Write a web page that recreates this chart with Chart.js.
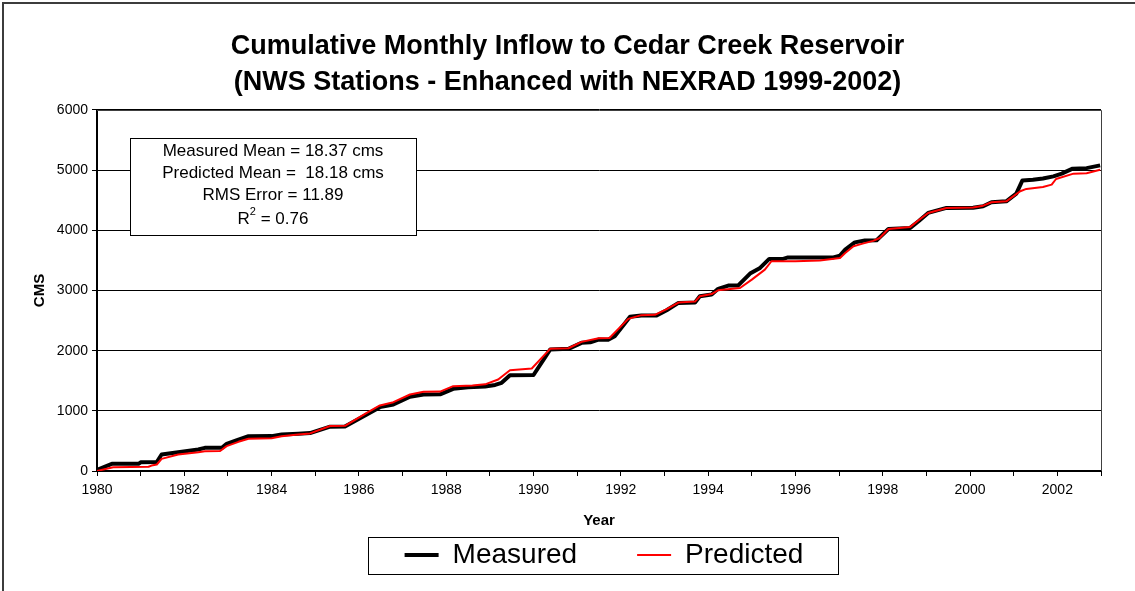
<!DOCTYPE html>
<html>
<head>
<meta charset="utf-8">
<script src="https://cdn.jsdelivr.net/npm/chart.js@4.4.1/dist/chart.umd.min.js"></script>
<style>
html, body { margin: 0; padding: 0; background: #fff; }
canvas { display: block; }
</style>
</head>
<body>
<canvas id="c" width="1135" height="591"></canvas>
<script>
// ---------------- data ----------------
const titleLines = ['Cumulative Monthly Inflow to Cedar Creek Reservoir', '(NWS Stations - Enhanced with NEXRAD 1999-2002)'];
const seriesNames = ['Measured', 'Predicted'];
const xAxisTitle = 'Year';
const yAxisTitle = 'CMS';

const measuredYears = [1980.0, 1980.34, 1980.95, 1981.0, 1981.37, 1981.48, 1981.86, 1982.32, 1982.47, 1982.86, 1982.97, 1983.24, 1983.47, 1984.0, 1984.23, 1984.61, 1984.88, 1985.34, 1985.68, 1986.18, 1986.48, 1986.79, 1987.17, 1987.48, 1987.86, 1988.16, 1988.5, 1988.89, 1989.12, 1989.27, 1989.46, 1990.0, 1990.38, 1990.8, 1991.1, 1991.3, 1991.49, 1991.71, 1991.86, 1992.21, 1992.47, 1992.82, 1993.05, 1993.32, 1993.7, 1993.81, 1994.08, 1994.23, 1994.46, 1994.69, 1994.96, 1995.19, 1995.4, 1995.72, 1995.83, 1996.87, 1997.02, 1997.14, 1997.36, 1997.59, 1997.86, 1998.13, 1998.63, 1998.82, 1999.04, 1999.46, 2000.07, 2000.3, 2000.49, 2000.83, 2001.06, 2001.2, 2001.44, 2001.67, 2001.91, 2002.1, 2002.35, 2002.67, 2002.98];
const measuredValues = [20, 120, 120, 145, 150, 275, 313, 357, 385, 385, 450, 523, 578, 580, 606, 618, 630, 737, 740, 939, 1061, 1105, 1233, 1271, 1275, 1366, 1390, 1405, 1430, 1465, 1590, 1595, 2018, 2030, 2130, 2140, 2185, 2180, 2240, 2562, 2583, 2585, 2672, 2794, 2800, 2904, 2932, 3027, 3081, 3085, 3281, 3375, 3525, 3525, 3550, 3550, 3580, 3680, 3800, 3830, 3835, 4023, 4040, 4150, 4289, 4372, 4375, 4400, 4466, 4482, 4610, 4830, 4840, 4860, 4897, 4942, 5025, 5033, 5080];

const predictedYears = [1980.0, 1980.37, 1981.18, 1981.25, 1981.37, 1981.48, 1981.86, 1982.32, 1982.47, 1982.82, 1982.97, 1983.24, 1983.47, 1984.0, 1984.23, 1984.61, 1984.88, 1985.34, 1985.68, 1986.18, 1986.48, 1986.79, 1987.17, 1987.48, 1987.86, 1988.16, 1988.6, 1988.89, 1989.19, 1989.46, 1989.96, 1990.38, 1990.8, 1991.1, 1991.49, 1991.74, 1992.17, 1992.47, 1992.78, 1993.05, 1993.32, 1993.7, 1993.81, 1994.08, 1994.23, 1994.73, 1995.0, 1995.3, 1995.45, 1996.0, 1996.56, 1997.02, 1997.14, 1997.33, 1997.52, 1997.78, 1997.93, 1998.13, 1998.63, 1998.82, 1999.04, 1999.46, 2000.07, 2000.3, 2000.49, 2000.83, 2001.15, 2001.29, 2001.67, 2001.87, 2001.97, 2002.37, 2002.67, 2002.98];
const predictedValues = [0, 63, 70, 90, 108, 202, 275, 313, 330, 332, 413, 485, 535, 545, 578, 606, 625, 747, 750, 967, 1089, 1144, 1271, 1316, 1320, 1410, 1420, 1440, 1520, 1675, 1703, 2030, 2040, 2146, 2207, 2210, 2528, 2590, 2595, 2690, 2800, 2815, 2904, 2940, 3004, 3042, 3181, 3347, 3486, 3486, 3500, 3541, 3624, 3735, 3775, 3825, 3873, 4023, 4057, 4167, 4289, 4372, 4380, 4410, 4466, 4482, 4650, 4688, 4721, 4760, 4853, 4942, 4950, 5008];

const xTickValues = [1980, 1981, 1982, 1983, 1984, 1985, 1986, 1987, 1988, 1989, 1990, 1991, 1992, 1993, 1994, 1995, 1996, 1997, 1998, 1999, 2000, 2001, 2002, 2003];
const xTickLabels = ['1980', '1982', '1984', '1986', '1988', '1990', '1992', '1994', '1996', '1998', '2000', '2002'];
const yTickValues = [0, 1000, 2000, 3000, 4000, 5000, 6000];
const yTickLabels = ['0', '1000', '2000', '3000', '4000', '5000', '6000'];

const statLines = ['Measured Mean = 18.37 cms', 'Predicted Mean =  18.18 cms', 'RMS Error = 11.89'];
const r2Text = ' = 0.76';

// ---------------- chart ----------------
const FONT = "'Liberation Sans', Arial, Helvetica, sans-serif";
Chart.defaults.font.family = FONT;
Chart.defaults.color = '#000';

const toPoints = (xs, ys) => xs.map((x, i) => ({ x: x, y: ys[i] }));

const decor = {
  id: 'decor',
  beforeDraw(chart) {
    const ctx = chart.ctx;
    ctx.save();
    ctx.fillStyle = '#fff';
    ctx.fillRect(0, 0, chart.width, chart.height);
    ctx.strokeStyle = '#3c3c3c';
    ctx.lineWidth = 2;
    ctx.beginPath();
    ctx.moveTo(3, chart.height);
    ctx.lineTo(3, 3);
    ctx.lineTo(chart.width, 3);
    ctx.stroke();
    ctx.restore();
  },
  afterLayout(chart) {
    const t = chart.titleBlock;
    if (t) { t.left = 0; t.right = chart.width; }
    const lg = chart.legend;
    const ca = chart.chartArea;
    const w = lg.right - lg.left;
    const cx = (ca.left + ca.right) / 2 + 5;
    lg.left = cx - w / 2;
    lg.right = lg.left + w;
    lg.top = chart.height - 36 - 14 - lg.options.labels.padding;
    lg.bottom = chart.height;
  },
  beforeDatasetsDraw(chart) {
    const ctx = chart.ctx, ca = chart.chartArea;
    ctx.save();
    ctx.strokeStyle = '#404040';
    ctx.lineWidth = 1;
    ctx.beginPath();
    ctx.moveTo(ca.left, Math.round(ca.top) + 0.5);
    ctx.lineTo(Math.round(ca.right) + 0.5, Math.round(ca.top) + 0.5);
    ctx.lineTo(Math.round(ca.right) + 0.5, ca.bottom);
    ctx.stroke();
    ctx.restore();
  },
  afterDatasetsDraw(chart) {
    const ctx = chart.ctx, ca = chart.chartArea;
    const bx = ca.left + 33, by = ca.top + 28, bw = 286, bh = 97;
    ctx.save();
    ctx.fillStyle = '#fff';
    ctx.fillRect(bx, by, bw, bh);
    ctx.strokeStyle = '#000';
    ctx.lineWidth = 1;
    ctx.strokeRect(Math.round(bx) + 0.5, Math.round(by) + 0.5, bw, bh);
    ctx.fillStyle = '#000';
    ctx.textBaseline = 'middle';
    ctx.textAlign = 'center';
    ctx.font = '17px ' + FONT;
    const cx = bx + bw / 2;
    const rowY = [by + 13, by + 35, by + 57, by + 81];
    statLines.forEach((s, i) => ctx.fillText(s, cx, rowY[i]));
    // R^2 line
    ctx.textAlign = 'left';
    const wR = ctx.measureText('R').width;
    const wRest = ctx.measureText(r2Text).width;
    ctx.font = '11px ' + FONT;
    const w2 = ctx.measureText('2').width;
    const total = wR + w2 + wRest;
    let x = cx - total / 2;
    ctx.font = '17px ' + FONT;
    ctx.fillText('R', x, rowY[3]);
    x += wR;
    ctx.font = '11px ' + FONT;
    ctx.fillText('2', x, rowY[3] - 7);
    x += w2;
    ctx.font = '17px ' + FONT;
    ctx.fillText(r2Text, x, rowY[3]);
    ctx.restore();
  },
  afterDraw(chart) {
    const lg = chart.legend;
    const hb = lg.legendHitBoxes;
    if (!hb || !hb.length) return;
    const ctx = chart.ctx;
    let l = Infinity, r = -Infinity;
    hb.forEach(b => { l = Math.min(l, b.left); r = Math.max(r, b.left + b.width); });
    const cy = hb[0].top + hb[0].height / 2;
    ctx.save();
    ctx.strokeStyle = '#000';
    ctx.lineWidth = 1;
    const x0 = Math.round(l - 37) + 0.5, x1 = Math.round(r + 35) + 0.5;
    const y0 = Math.round(cy - 18.5) + 0.5, y1 = Math.round(cy + 18.5) + 0.5;
    ctx.strokeRect(x0, y0, x1 - x0, y1 - y0);
    ctx.restore();
  }
};

new Chart(document.getElementById('c'), {
  type: 'line',
  data: {
    datasets: [
      {
        label: seriesNames[0],
        data: toPoints(measuredYears, measuredValues),
        borderColor: '#000000',
        backgroundColor: '#000000',
        borderWidth: 4,
        pointRadius: 0,
        tension: 0,
        borderJoinStyle: 'round',
        order: 1
      },
      {
        label: seriesNames[1],
        data: toPoints(predictedYears, predictedValues),
        borderColor: '#ff0000',
        backgroundColor: '#ff0000',
        borderWidth: 2,
        pointRadius: 0,
        tension: 0,
        borderJoinStyle: 'round',
        order: 0
      }
    ]
  },
  options: {
    responsive: false,
    animation: false,
    devicePixelRatio: 1,
    events: [],
    layout: { padding: { left: 24, right: 34, top: 0, bottom: 20 } },
    plugins: {
      title: {
        display: true,
        text: titleLines,
        color: '#000',
        font: { size: 27, weight: 'bold', lineHeight: 1.333 },
        padding: { top: 29, bottom: 9 }
      },
      legend: {
        display: true,
        position: 'bottom',
        maxHeight: 40,
        labels: {
          usePointStyle: true,
          pointStyle: 'line',
          pointStyleWidth: 34,
          padding: 60,
          color: '#000',
          font: { size: 28 },
          sort: (a, b) => a.datasetIndex - b.datasetIndex
        }
      },
      tooltip: { enabled: false }
    },
    scales: {
      x: {
        type: 'linear',
        min: 1980,
        max: 2003,
        afterBuildTicks: s => { s.ticks = xTickValues.map(v => ({ value: v })); },
        afterFit: s => { s.height = 60; },
        ticks: {
          autoSkip: false,
          maxRotation: 0,
          padding: 6,
          color: '#000',
          font: { size: 14 },
          callback: v => (xTickLabels.includes(String(v)) ? String(v) : '')
        },
        grid: { drawOnChartArea: false, drawTicks: true, tickLength: 5, color: '#000' },
        border: { display: true, color: '#000', width: 2 },
        title: { display: true, text: xAxisTitle, color: '#000', font: { size: 15, weight: 'bold' }, padding: { top: 0, bottom: 1 } }
      },
      y: {
        type: 'linear',
        min: 0,
        max: 6000,
        afterBuildTicks: s => { s.ticks = yTickValues.map(v => ({ value: v })); },
        afterFit: s => { s.width = 73; },
        ticks: {
          padding: 4,
          color: '#000',
          font: { size: 14 },
          callback: v => yTickLabels[yTickValues.indexOf(v)]
        },
        grid: { color: '#000', lineWidth: 1, drawTicks: true, tickLength: 5 },
        border: { display: true, color: '#000', width: 2 },
        title: { display: true, text: yAxisTitle, color: '#000', font: { size: 15, weight: 'bold' }, padding: { top: 7, bottom: 0 } }
      }
    }
  },
  plugins: [decor]
});
</script>
</body>
</html>
